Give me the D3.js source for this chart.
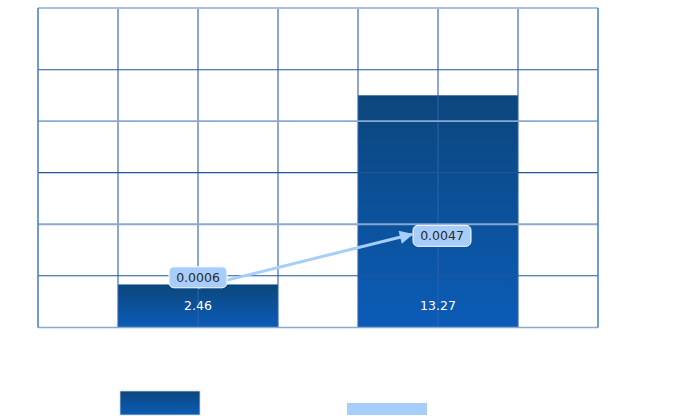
<!DOCTYPE html>
<html><head><meta charset="utf-8">
<script src="https://cdn.jsdelivr.net/npm/d3@7"></script>
<style>body{margin:0;background:#fff}svg{display:block}</style>
</head><body>
<script>
const categories = ["A", "B"];
const barValues = [2.46, 13.27];
const lineValues = [0.0006, 0.0047];
const darkGridTicks = [2.96, 8.85, 14.73];
const lightGridTicks = [5.9, 11.8];
const columnTicks = [0, 1, 2, 3, 4, 5, 6, 7];

const W = 673, H = 416;
const L = 38, R = 598, T = 8, B = 327.5;
const FONT = "'DejaVu Sans', Lato, sans-serif";
const svg = d3.select("body").append("svg").attr("width", W).attr("height", H);
const defs = svg.append("defs");
const grad = defs.append("linearGradient").attr("id", "barGrad").attr("x1", 0).attr("y1", 0).attr("x2", 0).attr("y2", 1);
grad.append("stop").attr("offset", "0%").attr("stop-color", "#0c467c");
grad.append("stop").attr("offset", "100%").attr("stop-color", "#0b5cb8");
defs.append("marker").attr("id", "arrow").attr("viewBox", "0 0 10 10").attr("refX", 9).attr("refY", 5)
  .attr("markerWidth", 5).attr("markerHeight", 4.5).attr("markerUnits", "strokeWidth").attr("orient", "auto")
  .append("path").attr("d", "M0,0 L10,5 L0,10 Z").attr("fill", "#a6cdfb");

const x = d3.scaleBand().domain(categories).range([L, R]).paddingInner(1 / 3).paddingOuter(1 / 3);
const col = d3.scaleLinear().domain([0, 7]).range([L, R]);
const y = d3.scaleLinear().domain([0, 18.26]).range([B, T]);
const y2 = d3.scaleLinear().domain([-0.00217, 0.01985]).range([B, T]);

// bars
svg.append("g").selectAll("rect").data(barValues).join("rect")
  .attr("x", (d, i) => x(categories[i])).attr("width", x.bandwidth())
  .attr("y", d => y(d)).attr("height", d => y(0) - y(d))
  .attr("fill", "url(#barGrad)");

// grid
const g = svg.append("g");
g.selectAll(".v").data(columnTicks.slice(1, -1)).join("line")
  .attr("x1", d => col(d)).attr("x2", d => col(d)).attr("y1", T).attr("y2", B)
  .attr("stroke", "#2c62ae").attr("stroke-width", 1.1);
g.selectAll(".hd").data(darkGridTicks).join("line")
  .attr("x1", L).attr("x2", R).attr("y1", d => y(d)).attr("y2", d => y(d))
  .attr("stroke", "#215599").attr("stroke-width", 1.1);
g.selectAll(".hl").data(lightGridTicks).join("line")
  .attr("x1", L).attr("x2", R).attr("y1", d => y(d)).attr("y2", d => y(d))
  .attr("stroke", "#8aa8d0").attr("stroke-width", 1.8);
// border
g.append("line").attr("x1", L).attr("x2", R).attr("y1", y(0)).attr("y2", y(0)).attr("stroke", "#8aa8d0").attr("stroke-width", 1.6);
g.append("line").attr("x1", L).attr("x2", R).attr("y1", T).attr("y2", T).attr("stroke", "#a8c0e2").attr("stroke-width", 1.8);
g.append("line").attr("x1", col(0)).attr("x2", col(0)).attr("y1", T).attr("y2", B).attr("stroke", "#4f80c8").attr("stroke-width", 1.6);
g.append("line").attr("x1", col(7)).attr("x2", col(7)).attr("y1", T).attr("y2", B).attr("stroke", "#4f80c8").attr("stroke-width", 1.6);

// bar labels
svg.append("g").selectAll("text").data(barValues).join("text")
  .attr("x", (d, i) => x(categories[i]) + x.bandwidth() / 2)
  .attr("y", y(0) - 22).attr("dy", "0.36em").attr("text-anchor", "middle")
  .attr("fill", "#fff").attr("font-family", FONT).attr("font-size", 12.5)
  .text(d => d);

// line with arrow
const pts = lineValues.map((v, i) => [x(categories[i]) + x.bandwidth() / 2, y2(v)]);
const lbl = [
  { cx: pts[0][0], cy: pts[0][1] - 10 },
  { cx: pts[1][0] + 4, cy: pts[1][1] + 8 }
];
const bw = 58, bh = 21;
const p0 = pts[0], p1 = pts[1];
const endX = lbl[1].cx - bw / 2 - 1;
const t = (endX - p0[0]) / (p1[0] - p0[0]);
const endY = p0[1] + t * (p1[1] - p0[1]);
svg.append("path").attr("d", d3.line()([p0, [endX, endY]]))
  .attr("stroke", "#a6cdfb").attr("stroke-width", 3).attr("fill", "none")
  .attr("marker-end", "url(#arrow)");

const lg = svg.append("g").selectAll("g").data(lineValues).join("g")
  .attr("transform", (d, i) => `translate(${lbl[i].cx},${lbl[i].cy})`);
lg.append("rect").attr("x", -bw / 2).attr("y", -bh / 2).attr("width", bw).attr("height", bh)
  .attr("rx", 5).attr("fill", "#a8cdfa").attr("stroke", "#fff").attr("stroke-width", 1);
lg.append("text").attr("text-anchor", "middle").attr("dy", "0.36em")
  .attr("fill", "#2a2a2a").attr("font-family", FONT).attr("font-size", 12.5)
  .text(d => d.toFixed(4));

// legend
const legend = svg.append("g");
legend.append("rect").attr("x", 120).attr("y", 391).attr("width", 80).attr("height", 24)
  .attr("fill", "url(#barGrad)").attr("stroke", "#cfd8e6").attr("stroke-width", 0.8);
legend.append("rect").attr("x", 347).attr("y", 403).attr("width", 80).attr("height", 12)
  .attr("fill", "#a6cdfb");
</script>
</body></html>
